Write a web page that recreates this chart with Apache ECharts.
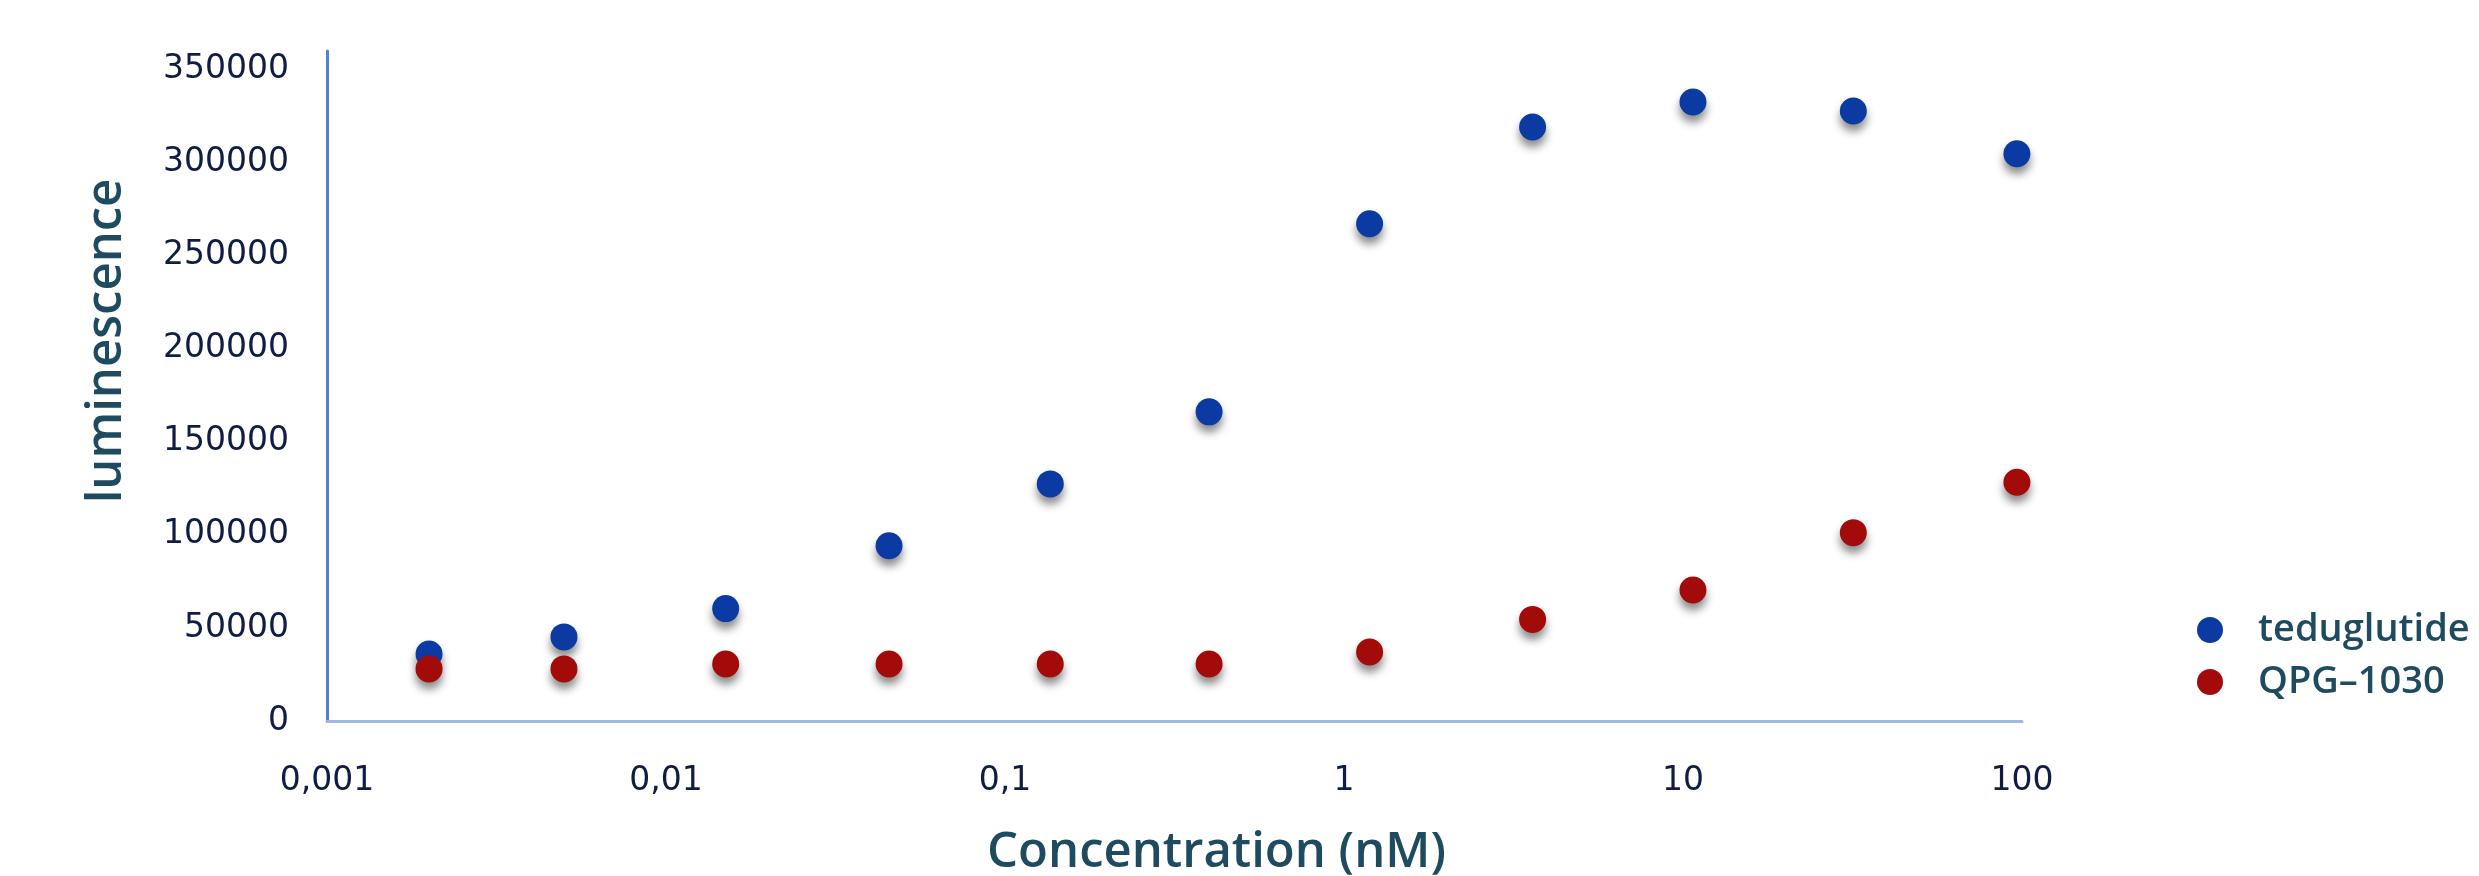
<!DOCTYPE html>
<html>
<head>
<meta charset="utf-8">
<title>luminescence</title>
<script src="https://cdn.jsdelivr.net/npm/echarts@6/dist/echarts.min.js"></script>
<style>
html,body{margin:0;padding:0;background:#fff;}
#main{width:2479px;height:876px;}
</style>
</head>
<body>
<div id="main"></div>
<script>
// concentrations (nM)
var conc=[0.002,0.005,0.015,0.0455,0.136,0.40,1.19,3.6,10.7,31.8,96.6];
var teduglutide=[36000,45200,60400,94200,127400,166100,267200,319200,332600,327800,304800];
var qpg1030=[28000,28000,30600,30600,30600,30600,37100,54600,70400,101200,128300];
var seriesNames=['teduglutide','QPG–1030'];
var xTicks=[0.001,0.01,0.1,1,10,100];
var yTicks=[0,50000,100000,150000,200000,250000,300000,350000];

function pairs(xs,ys){
	var arr=[];
	for(var i=0;i<xs.length;i++){
		arr.push([xs[i],ys[i]]);
	}
	return arr;
}

var myChart=echarts.init(document.getElementById('main'));
var dotShadow={opacity:1,shadowBlur:8,shadowOffsetY:7,shadowColor:'rgba(0,0,0,0.45)'};
var option={
	backgroundColor:'#fff',
	animation:false,
	grid:{left:327,right:457,top:51,bottom:155,containLabel:false,outerBoundsMode:'none'},
	legend:{
		orient:'vertical',
		left:2192,
		top:606,
		itemWidth:26,
		itemHeight:26,
		itemGap:14,
		icon:'circle',
		selectedMode:false,
		data:seriesNames,
		textStyle:{fontFamily:'Open Sans',fontSize:38,fontWeight:600,color:'#1e4b5f',padding:[0,0,0,30]}
	},
	xAxis:{
		type:'log',
		logBase:10,
		min:xTicks[0],
		max:xTicks[xTicks.length-1],
		name:'Concentration (nM)',
		nameLocation:'middle',
		nameGap:108,
		nameTextStyle:{fontFamily:'Open Sans',fontSize:49,fontWeight:600,color:'#1e4b5f',padding:[0,0,0,84]},
		axisLine:{onZero:false,lineStyle:{color:'#9db8e2',width:3}},
		axisTick:{show:false},
		splitLine:{show:false},
		axisLabel:{
			margin:44,
			fontFamily:'DejaVu Sans',
			fontSize:33,
			color:'#111c45',
			formatter:function(v){
				return String(Number(v.toPrecision(6))).replace('.',',');
			}
		}
	},
	yAxis:{
		type:'value',
		min:yTicks[0],
		max:360000,
		interval:yTicks[1]-yTicks[0],
		name:'luminescence',
		nameLocation:'middle',
		nameGap:195,
		nameTextStyle:{fontFamily:'Open Sans',fontSize:49,fontWeight:600,color:'#1e4b5f',padding:[0,0,0,90]},
		axisLine:{show:true,onZero:false,lineStyle:{color:'#4f83d1',width:3}},
		axisTick:{show:false},
		splitLine:{show:false},
		axisLabel:{
			margin:38,
			fontFamily:'DejaVu Sans',
			fontSize:33,
			color:'#111c45',
			formatter:function(v){
				return yTicks.indexOf(v)>=0 ? String(v) : '';
			}
		}
	},
	series:[
		{
			name:seriesNames[0],
			type:'scatter',
			symbolSize:27,
			data:pairs(conc,teduglutide),
			itemStyle:echarts.util.extend({color:'#0b3aa3'},dotShadow)
		},
		{
			name:seriesNames[1],
			type:'scatter',
			symbolSize:27,
			data:pairs(conc,qpg1030),
			itemStyle:echarts.util.extend({color:'#a30b0b'},dotShadow)
		}
	]
};
myChart.setOption(option);
</script>
</body>
</html>
